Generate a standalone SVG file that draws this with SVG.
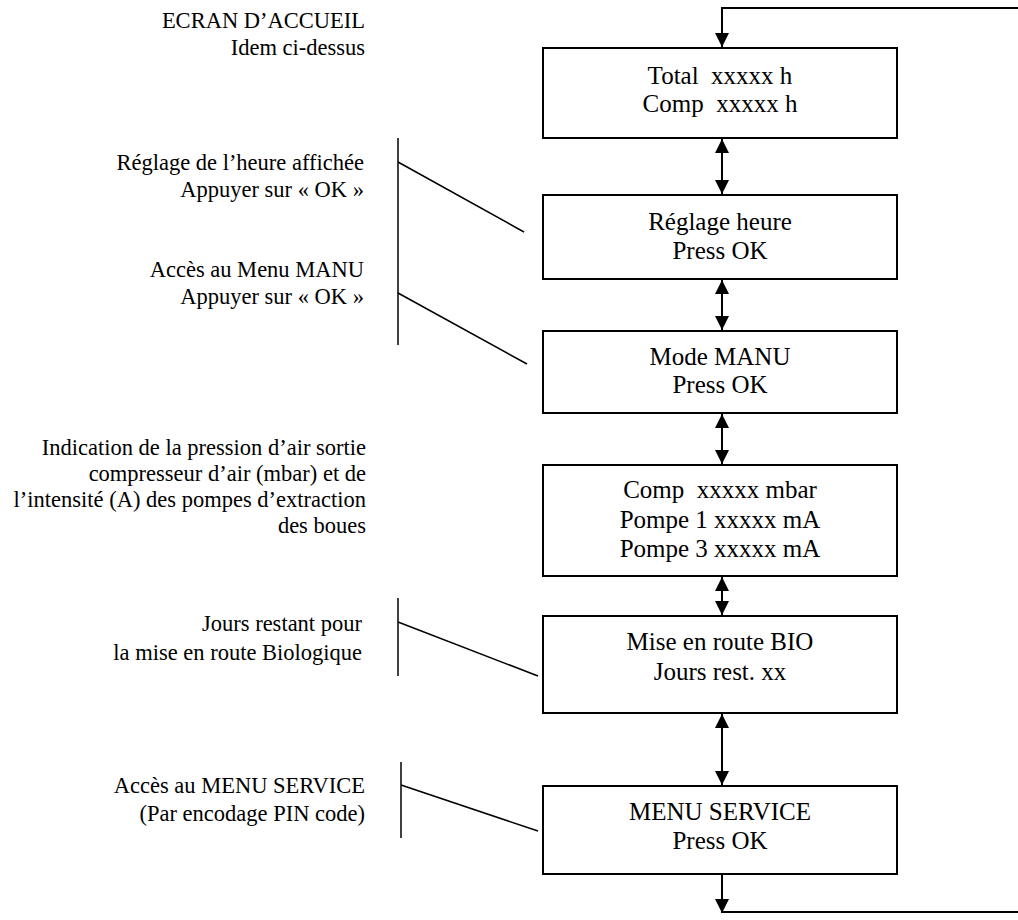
<svg xmlns="http://www.w3.org/2000/svg" width="1018" height="920" viewBox="0 0 1018 920">
  <style>
    .box { fill: #fff; stroke: #000; stroke-width: 2; }
    .nt { font-size: 25px; fill: #000; text-anchor: middle; white-space: pre; }
    .at { font-size: 22.5px; fill: #000; text-anchor: end; white-space: pre; }
    .conn { stroke: #000; stroke-width: 2; fill: none; }
    .ann { stroke: #000; stroke-width: 1.5; fill: none; }
  </style>
  <defs>
    <marker id="ah" viewBox="0 0 14 14" refX="14" refY="7" markerWidth="14" markerHeight="14" markerUnits="userSpaceOnUse" orient="auto-start-reverse">
      <path d="M0,0 L14,7 L0,14 Z" fill="#000"/>
    </marker>
  </defs>

  <rect width="1018" height="920" fill="#fff"/>

  <g id="connectors">
    <path class="conn" d="M1018,8 H722 V47" marker-end="url(#ah)"/>
    <line class="conn" x1="722" y1="139" x2="722" y2="194" marker-start="url(#ah)" marker-end="url(#ah)"/>
    <line class="conn" x1="722" y1="280" x2="722" y2="330" marker-start="url(#ah)" marker-end="url(#ah)"/>
    <line class="conn" x1="722" y1="414" x2="722" y2="464" marker-start="url(#ah)" marker-end="url(#ah)"/>
    <line class="conn" x1="722" y1="577" x2="722" y2="615" marker-start="url(#ah)" marker-end="url(#ah)"/>
    <line class="conn" x1="722" y1="714" x2="722" y2="785" marker-start="url(#ah)" marker-end="url(#ah)"/>
    <line class="conn" x1="722" y1="875" x2="722" y2="913" marker-end="url(#ah)"/>
    <line class="conn" x1="722" y1="912" x2="1018" y2="912"/>
  </g>

  <g id="annotation-lines">
    <line class="ann" x1="398" y1="138" x2="398" y2="345"/>
    <line class="ann" x1="398" y1="162" x2="524" y2="232"/>
    <line class="ann" x1="398" y1="293" x2="527" y2="364"/>
    <line class="ann" x1="398" y1="598" x2="398" y2="676"/>
    <line class="ann" x1="398" y1="622" x2="538" y2="676"/>
    <line class="ann" x1="401" y1="762" x2="401" y2="838"/>
    <line class="ann" x1="401" y1="785" x2="538" y2="831"/>
  </g>

  <g id="nodes" font-family="Liberation Serif, Times New Roman, serif">
  <g id="node-accueil">
    <rect class="box" x="543" y="48" width="354" height="90"/>
    <text class="nt" x="720" y="84">Total  xxxxx h</text>
    <text class="nt" x="720" y="112">Comp  xxxxx h</text>
  </g>
  <g id="node-reglage">
    <rect class="box" x="543" y="195" width="354" height="84"/>
    <text class="nt" x="720" y="230">Réglage heure</text>
    <text class="nt" x="720" y="259">Press OK</text>
  </g>
  <g id="node-manu">
    <rect class="box" x="543" y="331" width="354" height="82"/>
    <text class="nt" x="720" y="365">Mode MANU</text>
    <text class="nt" x="720" y="393">Press OK</text>
  </g>
  <g id="node-mesures">
    <rect class="box" x="543" y="465" width="354" height="111"/>
    <text class="nt" x="720" y="498">Comp  xxxxx mbar</text>
    <text class="nt" x="720" y="528">Pompe 1 xxxxx mA</text>
    <text class="nt" x="720" y="557">Pompe 3 xxxxx mA</text>
  </g>
  <g id="node-bio">
    <rect class="box" x="543" y="616" width="354" height="97"/>
    <text class="nt" x="720" y="650">Mise en route BIO</text>
    <text class="nt" x="720" y="680">Jours rest. xx</text>
  </g>
  <g id="node-service">
    <rect class="box" x="543" y="786" width="354" height="88"/>
    <text class="nt" x="720" y="820">MENU SERVICE</text>
    <text class="nt" x="720" y="849">Press OK</text>
  </g>
  </g>

  <g id="annotations" font-family="Liberation Serif, Times New Roman, serif">
    <text class="at" x="365" y="28">ECRAN D’ACCUEIL</text>
    <text class="at" x="365" y="55">Idem ci-dessus</text>
    <text class="at" x="364" y="170">Réglage de l’heure affichée</text>
    <text class="at" x="364" y="197">Appuyer sur « OK »</text>
    <text class="at" x="364" y="277">Accès au Menu MANU</text>
    <text class="at" x="364" y="304">Appuyer sur « OK »</text>
    <text class="at" x="366" y="455">Indication de la pression d’air sortie</text>
    <text class="at" x="366" y="481">compresseur d’air (mbar) et de</text>
    <text class="at" x="366" y="507">l’intensité (A) des pompes d’extraction</text>
    <text class="at" x="366" y="533">des boues</text>
    <text class="at" x="362" y="631">Jours restant pour</text>
    <text class="at" x="362" y="660">la mise en route Biologique</text>
    <text class="at" x="365" y="793">Accès au MENU SERVICE</text>
    <text class="at" x="365" y="821">(Par encodage PIN code)</text>
  </g>
</svg>
